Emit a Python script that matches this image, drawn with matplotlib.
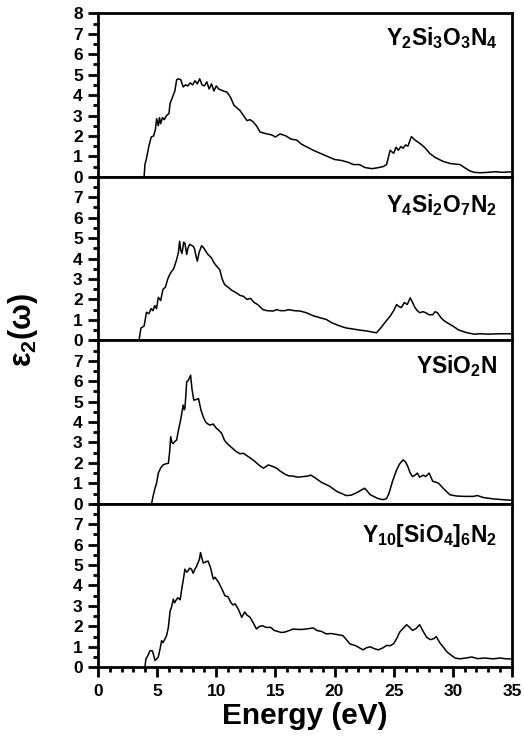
import matplotlib
matplotlib.use("Agg")
from matplotlib import pyplot as plt
from matplotlib.ticker import MultipleLocator

plt.rcParams['font.family'] = 'Liberation Sans'
plt.rcParams['font.weight'] = 'bold'
plt.rcParams['mathtext.fontset'] = 'custom'
plt.rcParams['mathtext.rm'] = 'Liberation Sans:bold'
plt.rcParams['mathtext.it'] = 'Liberation Sans:bold'
plt.rcParams['mathtext.bf'] = 'Liberation Sans:bold'

# compound names, top to bottom
labels = ["Y$_2$Si$_3$O$_3$N$_4$", "Y$_4$Si$_2$O$_7$N$_2$",
          "YSiO$_2$N", "Y$_{10}$[SiO$_4$]$_6$N$_2$"]
label_y = [0.805, 0.787, 0.80, 0.767]

# panel 1: Y2Si3O3N4
e1 = [3.9, 3.97, 4.1, 4.3, 4.5, 4.7, 4.85, 4.96, 5.1, 5.2,
      5.3, 5.45, 5.6, 5.8, 6.0, 6.1, 6.3, 6.5, 6.65, 6.8,
      7.0, 7.2, 7.4, 7.6, 7.8, 8.0, 8.2, 8.4, 8.6, 8.8,
      9.0, 9.2, 9.4, 9.6, 9.8, 10.0, 10.2, 10.4, 10.6, 10.9,
      11.2, 11.5, 11.8, 12.0, 12.3, 12.6, 12.85, 13.1, 13.4, 13.7,
      13.95, 14.3, 14.7, 15.0, 15.4, 15.9, 16.3, 16.8, 17.2, 17.7,
      18.2, 18.8, 19.4, 20.0, 20.6, 21.2, 21.6, 22.1, 22.6, 23.2,
      23.7, 24.1, 24.4, 24.7, 25.0, 25.2, 25.4, 25.6, 25.8, 26.0,
      26.2, 26.5, 26.8, 27.2, 27.6, 28.05, 28.5, 29.2, 29.8, 30.6,
      31.4, 31.8, 32.3, 33.0, 33.6, 34.2, 35.0]
eps1 = [0.0, 0.6, 0.9, 1.5, 1.95, 2.0, 2.3, 2.85, 2.5, 2.9,
        2.6, 2.9, 2.8, 3.0, 3.1, 3.6, 3.9, 4.2, 4.75, 4.8,
        4.75, 4.4, 4.5, 4.45, 4.6, 4.5, 4.7, 4.55, 4.8, 4.5,
        4.45, 4.65, 4.3, 4.55, 4.2, 4.45, 4.3, 4.25, 4.2, 4.15,
        3.9, 3.5, 3.35, 3.25, 3.0, 2.75, 2.8, 2.7, 2.5, 2.2,
        2.15, 2.1, 2.05, 1.95, 2.1, 2.0, 1.85, 1.8, 1.6, 1.45,
        1.3, 1.15, 1.0, 0.85, 0.8, 0.7, 0.6, 0.6, 0.45, 0.4,
        0.45, 0.5, 0.6, 1.3, 1.15, 1.45, 1.3, 1.48, 1.4, 1.56,
        1.5, 1.97, 1.8, 1.64, 1.45, 1.15, 0.95, 0.75, 0.65, 0.6,
        0.3, 0.22, 0.2, 0.22, 0.25, 0.22, 0.25]

# panel 2: Y4Si2O7N2
e2 = [3.47, 3.63, 3.9, 4.1, 4.3, 4.5, 4.65, 4.8, 4.95, 5.1,
      5.3, 5.5, 5.7, 5.9, 6.05, 6.2, 6.4, 6.65, 6.8, 6.9,
      7.0, 7.1, 7.25, 7.35, 7.5, 7.6, 7.75, 7.9, 8.05, 8.15,
      8.3, 8.4, 8.55, 8.76, 8.9, 9.1, 9.3, 9.6, 9.8, 10.0,
      10.3, 10.5, 10.7, 11.0, 11.3, 11.7, 12.0, 12.3, 12.6, 12.9,
      13.2, 13.5, 13.95, 14.3, 14.8, 15.1, 15.4, 15.8, 16.1, 16.6,
      17.1, 17.6, 18.2, 18.8, 19.3, 19.8, 20.45, 21.0, 21.6, 22.1,
      22.8, 23.2, 23.55, 23.9, 24.3, 24.7, 25.0, 25.25, 25.45, 25.65,
      25.9, 26.15, 26.4, 26.6, 26.8, 27.0, 27.2, 27.5, 27.7, 28.0,
      28.3, 28.5, 28.7, 29.0, 29.3, 29.7, 30.0, 30.5, 31.2, 31.8,
      32.3, 33.0, 34.0, 35.0]
eps2 = [0.0, 0.6, 0.7, 1.37, 1.3, 1.55, 1.45, 1.7, 1.55, 2.1,
        1.95, 2.5, 2.6, 3.0, 3.2, 3.35, 3.5, 3.95, 4.3, 4.85,
        4.4, 4.25, 4.8, 4.75, 4.2, 4.5, 4.7, 4.65, 4.6, 4.5,
        4.1, 3.87, 4.3, 4.63, 4.55, 4.37, 4.2, 4.03, 3.8, 3.65,
        3.45, 3.0, 2.73, 2.6, 2.45, 2.32, 2.2, 2.15, 2.0, 2.05,
        1.85, 1.75, 1.5, 1.45, 1.43, 1.5, 1.45, 1.45, 1.5, 1.45,
        1.43, 1.35, 1.2, 1.1, 1.02, 0.85, 0.7, 0.6, 0.55, 0.5,
        0.45, 0.4, 0.37, 0.6, 0.9, 1.18, 1.45, 1.75, 1.65, 1.6,
        1.85, 1.75, 2.08, 1.85, 1.6, 1.45, 1.35, 1.4, 1.35, 1.25,
        1.25, 1.4, 1.35, 1.1, 0.94, 0.8, 0.7, 0.5, 0.37, 0.3,
        0.32, 0.3, 0.32, 0.32]

# panel 3: YSiO2N
e3 = [4.53, 4.65, 4.82, 4.95, 5.1, 5.3, 5.5, 5.7, 5.95, 6.05,
      6.15, 6.25, 6.35, 6.5, 6.65, 6.8, 6.93, 7.05, 7.2, 7.3,
      7.35, 7.45, 7.5, 7.65, 7.83, 7.95, 8.1, 8.3, 8.5, 8.7,
      8.9, 9.1, 9.3, 9.47, 9.75, 10.0, 10.2, 10.45, 10.7, 10.9,
      11.2, 11.5, 11.7, 12.0, 12.3, 12.6, 12.85, 13.1, 13.4, 13.7,
      14.0, 14.4, 14.8, 15.1, 15.4, 15.8, 16.1, 16.5, 16.9, 17.35,
      17.7, 18.0, 18.4, 18.9, 19.6, 20.2, 20.6, 21.0, 21.4, 21.9,
      22.2, 22.55, 22.8, 23.0, 23.3, 23.7, 24.1, 24.4, 24.6, 24.9,
      25.25, 25.5, 25.8, 26.0, 26.2, 26.4, 26.6, 26.8, 27.0, 27.2,
      27.5, 27.7, 28.0, 28.15, 28.3, 28.6, 28.8, 29.2, 29.75, 30.3,
      31.0, 31.7, 32.1, 32.6, 33.4, 34.2, 35.0]
eps3 = [0.0, 0.35, 0.76, 1.0, 1.5, 1.75, 1.9, 1.95, 1.98, 2.5,
        3.28, 3.0, 2.95, 3.05, 3.12, 3.6, 3.94, 4.3, 4.83, 4.6,
        4.67, 5.5, 5.97, 6.05, 6.29, 5.6, 5.07, 5.1, 5.15, 4.6,
        4.25, 4.0, 3.9, 3.85, 3.9, 3.7, 3.6, 3.45, 3.1, 2.96,
        2.8, 2.65, 2.55, 2.45, 2.47, 2.35, 2.25, 2.15, 2.0, 1.85,
        1.74, 1.9, 1.82, 1.74, 1.6, 1.45, 1.37, 1.35, 1.3, 1.33,
        1.35, 1.4, 1.25, 1.05, 0.85, 0.6, 0.5, 0.4, 0.42, 0.55,
        0.65, 0.76, 0.6, 0.45, 0.36, 0.25, 0.2, 0.25, 0.5, 1.1,
        1.66, 1.95, 2.15, 2.05, 1.82, 1.5, 1.33, 1.4, 1.5, 1.3,
        1.4, 1.33, 1.5, 1.3, 1.1, 1.05, 1.0, 0.75, 0.44, 0.38,
        0.36, 0.36, 0.4, 0.3, 0.24, 0.2, 0.17]

# panel 4: Y10[SiO4]6N2
e4 = [3.97, 4.05, 4.2, 4.4, 4.6, 4.7, 4.82, 4.95, 5.1, 5.25,
      5.38, 5.5, 5.65, 5.8, 5.95, 6.1, 6.2, 6.37, 6.47, 6.57,
      6.75, 6.85, 6.95, 7.1, 7.2, 7.35, 7.5, 7.6, 7.75, 7.9,
      8.05, 8.2, 8.3, 8.45, 8.58, 8.67, 8.8, 8.9, 9.1, 9.3,
      9.5, 9.75, 9.9, 10.2, 10.5, 10.73, 11.0, 11.2, 11.4, 11.6,
      11.9, 12.15, 12.4, 12.6, 12.85, 13.1, 13.4, 13.65, 13.9, 14.2,
      14.6, 14.9, 15.2, 15.5, 15.8, 16.1, 16.5, 16.9, 17.3, 17.7,
      18.2, 18.5, 18.9, 19.3, 19.7, 20.2, 20.7, 21.0, 21.3, 21.8,
      22.4, 22.7, 23.0, 23.4, 23.7, 24.1, 24.4, 24.7, 25.0, 25.3,
      25.5, 25.8, 26.1, 26.35, 26.6, 26.9, 27.2, 27.5, 27.8, 28.1,
      28.4, 28.6, 28.9, 29.2, 29.5, 29.9, 30.2, 30.6, 31.1, 31.6,
      32.1, 32.7, 33.4, 34.0, 34.5, 35.0]
eps4 = [0.0, 0.4, 0.55, 0.81, 0.8, 0.6, 0.33, 0.4, 0.5, 0.9,
        1.3, 1.2, 1.37, 1.55, 1.95, 2.76, 2.9, 3.33, 3.15, 3.25,
        3.4, 3.35, 3.3, 3.9, 4.23, 4.8, 4.65, 4.7, 4.85, 4.8,
        4.6, 4.8, 4.9, 5.1, 5.3, 5.61, 5.3, 5.1, 5.15, 5.2,
        4.9, 4.31, 4.4, 4.15, 3.8, 3.5, 3.45, 3.2, 3.05, 3.1,
        2.8, 2.44, 2.7, 2.55, 2.45, 2.2, 1.87, 2.0, 2.03, 1.95,
        1.95, 1.8, 1.75, 1.7, 1.72, 1.78, 1.87, 1.85, 1.85, 1.88,
        1.92, 1.8, 1.75, 1.63, 1.65, 1.6, 1.55, 1.35, 1.14, 1.05,
        0.85, 0.95, 1.0, 0.9, 0.85, 0.95, 1.07, 1.05, 1.15, 1.45,
        1.71, 1.9, 2.08, 1.95, 1.8, 1.9, 2.08, 1.75, 1.46, 1.35,
        1.4, 1.5, 1.2, 0.98, 0.75, 0.57, 0.45, 0.41, 0.45, 0.5,
        0.42, 0.45, 0.41, 0.45, 0.41, 0.41]

energies = [e1, e2, e3, e4]
spectra = [eps1, eps2, eps3, eps4]

fig, axes = plt.subplots(4, 1, sharex=True, figsize=(5.24, 7.43), dpi=100)
fig.subplots_adjust(left=0.187, right=0.977, bottom=0.102, top=0.982, hspace=0)

for i, ax in enumerate(axes):
    ax.plot(energies[i], spectra[i], color='black', lw=1.1)
    ax.set_xlim(0, 35)
    ax.set_ylim(0, 8)
    if i == 0:
        ax.set_yticks(range(0, 9))
    else:
        ax.set_yticks(range(0, 8))
    ax.yaxis.set_minor_locator(MultipleLocator(0.5))
    for s in ax.spines.values():
        s.set_linewidth(2)
    ax.tick_params(axis='y', which='major', direction='out', length=7, width=2,
                   labelsize=12.5, pad=4)
    ax.tick_params(axis='y', which='minor', direction='out', length=3.5, width=2)
    ax.text(0.965, label_y[i], labels[i], transform=ax.transAxes, ha='right',
            va='baseline', fontsize=16.5, fontweight='bold')
    if i < 3:
        ax.tick_params(axis='x', which='both', bottom=False, labelbottom=False)

ax = axes[-1]
ax.xaxis.set_major_locator(MultipleLocator(5))
ax.xaxis.set_minor_locator(MultipleLocator(1))
ax.tick_params(axis='x', which='major', direction='out', length=7, width=2,
               labelsize=12.5, pad=5)
ax.tick_params(axis='x', which='minor', direction='out', length=3.5, width=2)
for lab in ax.get_xticklabels() + [l for a in axes for l in a.get_yticklabels()]:
    lab.set_fontweight('bold')
ax.set_xlabel("Energy (eV)", fontsize=21.5, fontweight='bold', labelpad=2)

fig.text(0.044, 0.556, "ε$_2$(ω)", rotation=90, ha='center', va='center',
         fontsize=22, fontweight='bold')

fig.savefig("out.png", dpi=100)
